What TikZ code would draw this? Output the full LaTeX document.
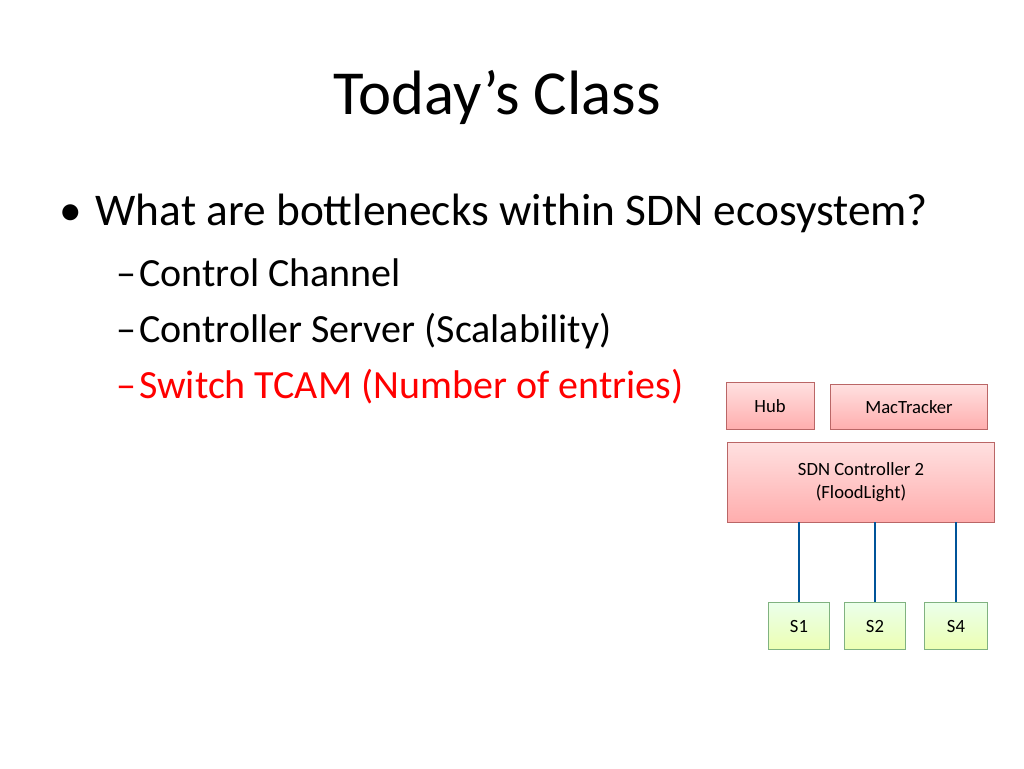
\documentclass[tikz,border=0pt]{standalone}
\usepackage{fontspec}
\setmainfont{Carlito}
\begin{document}
\begin{tikzpicture}[x=0.75pt,y=-0.75pt,
  redbox/.style={draw=red!55!black!60, fill=red!22, top color=red!12, bottom color=red!32, line width=0.6pt, inner sep=0pt, font=\fontsize{14}{17}\selectfont, align=center, drop shadow/.try},
  greenbox/.style={draw=green!40!black!50, top color=green!8, bottom color=green!25!yellow!30, line width=0.6pt, inner sep=0pt, font=\fontsize{14}{17}\selectfont},
  link/.style={draw=blue!45!cyan!60!black, line width=2pt}]
\useasboundingbox (0,0) rectangle (1024,768);
\node[font=\fontsize{47}{56}\selectfont] (title) at (497,97) {Today’s Class};
\node[anchor=west,font=\fontsize{34}{40}\selectfont] (b1) at (55,213) {•\hspace{10pt}What are bottlenecks within SDN ecosystem?};
\node[anchor=west,font=\fontsize{30}{36}\selectfont] (s1) at (112,273) {–\hspace{2pt}Control Channel};
\node[anchor=west,font=\fontsize{30}{36}\selectfont] (s2) at (112,331) {–\hspace{2pt}Controller Server (Scalability)};
\node[anchor=west,font=\fontsize{30}{36}\selectfont,text=red] (s3) at (112,387) {–\hspace{2pt}Switch TCAM (Number of entries)};
\node[redbox,minimum width=66pt,minimum height=35pt] (hub) at (770,406) {Hub};
\node[redbox,minimum width=118pt,minimum height=34pt] (mac) at (909,407) {MacTracker};
\node[redbox,minimum width=200pt,minimum height=60pt] (ctl) at (861,482) {SDN Controller 2\\(FloodLight)};
\node[greenbox,minimum width=46pt,minimum height=35pt] (sw1) at (799,626) {S1};
\node[greenbox,minimum width=46pt,minimum height=35pt] (sw2) at (875,626) {S2};
\node[greenbox,minimum width=47pt,minimum height=35pt] (sw4) at (956,626) {S4};
\draw[link] (ctl.south -| sw1) -- (sw1.north);
\draw[link] (ctl.south -| sw2) -- (sw2.north);
\draw[link] (ctl.south -| sw4) -- (sw4.north);
\end{tikzpicture}
\end{document}
